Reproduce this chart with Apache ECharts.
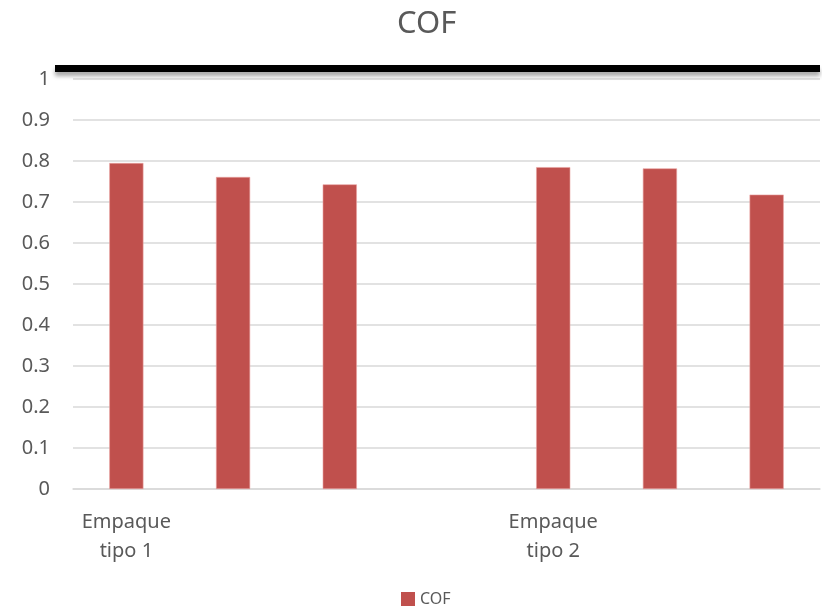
<!DOCTYPE html>
<html>
<head>
<meta charset="utf-8">
<script src="https://cdn.jsdelivr.net/npm/echarts@6/dist/echarts.min.js"></script>
<style>
  html, body { margin: 0; padding: 0; background: #fff; }
  #chart { width: 822px; height: 612px; }
</style>
</head>
<body>
<div id="chart"></div>
<script>
// Category labels (only group heads are named)
const categories = ['Empaque\ntipo 1', '', '', '', 'Empaque\ntipo 2', '', ''];
// Coefficient of friction per sample (gap between packaging groups)
const cofValues = [0.795, 0.761, 0.743, null, 0.785, 0.782, 0.718];
const seriesName = 'COF';
const yTicks = { min: 0, max: 1, interval: 0.1 };

const textColor = '#595959';
const font = 'Noto Sans';

const chart = echarts.init(document.getElementById('chart'), null, { renderer: 'canvas' });
chart.setOption({
  backgroundColor: '#ffffff',
  animation: false,
  title: {
    text: 'COF',
    left: 392,
    top: 4,
    textStyle: { color: textColor, fontFamily: font, fontSize: 31, fontWeight: 'normal' }
  },
  legend: {
    bottom: 0,
    left: 396,
    itemWidth: 14,
    itemHeight: 14,
    itemGap: 5,
    icon: 'rect',
    itemStyle: { borderWidth: 0 },
    textStyle: { color: textColor, fontFamily: font, fontSize: 16 },
    data: [seriesName]
  },
  grid: { left: 73, right: 2, top: 79, bottom: 123 },
  xAxis: {
    type: 'category',
    data: categories,
    axisLine: { show: true, lineStyle: { color: '#d9d9d9', width: 1.5 } },
    axisTick: { show: false },
    axisLabel: {
      interval: 0,
      color: textColor,
      fontFamily: font,
      fontSize: 20,
      lineHeight: 29,
      margin: 19
    }
  },
  yAxis: {
    type: 'value',
    min: yTicks.min,
    max: yTicks.max,
    interval: yTicks.interval,
    axisLine: { show: false },
    axisTick: { show: false },
    splitLine: { lineStyle: { color: '#d9d9d9', width: 1.5 } },
    axisLabel: {
      color: textColor,
      fontFamily: font,
      fontSize: 20,
      margin: 23,
      formatter: v => String(Math.round(v * 10) / 10)
    }
  },
  series: [{
    name: seriesName,
    type: 'bar',
    data: cofValues,
    barWidth: '32%',
    itemStyle: { color: '#C0504D', borderColor: '#e9a3a1', borderWidth: 0.6 }
  }],
  graphic: [{
    type: 'line',
    shape: { x1: 55, y1: 68.5, x2: 820, y2: 68.5 },
    style: {
      stroke: '#000000',
      lineWidth: 7,
      shadowColor: 'rgba(0,0,0,0.35)',
      shadowBlur: 4,
      shadowOffsetY: 4
    },
    z: 100
  }]
});
</script>
</body>
</html>
